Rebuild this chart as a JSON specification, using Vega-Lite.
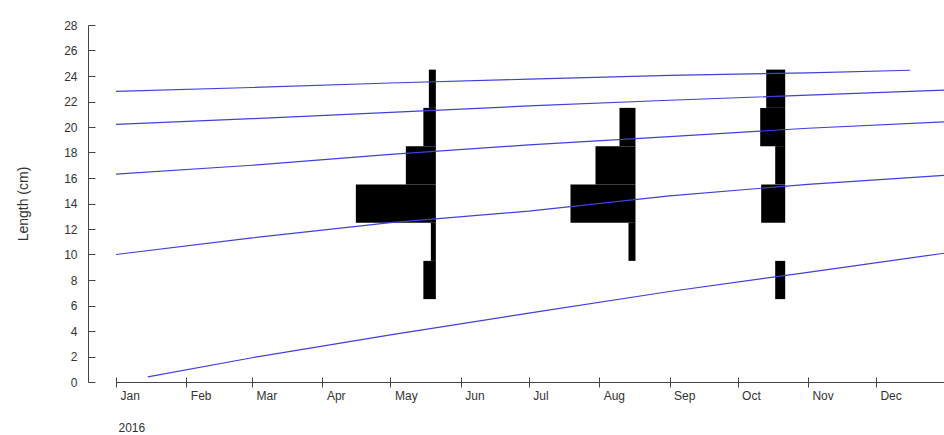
{
  "$schema": "https://vega.github.io/schema/vega-lite/v6.json",
  "width": 828,
  "height": 357,
  "autosize": {"type": "none"},
  "padding": {"left": 116, "top": 25, "right": 0, "bottom": 53},
  "background": "white",
  "config": {
    "view": {"stroke": null},
    "font": "Liberation Sans",
    "axis": {"labelFont": "Liberation Sans", "titleFont": "Liberation Sans", "labelColor": "#333", "titleColor": "#333", "grid": false}
  },
  "datasets": {
    "samples": [
      {"date": "2016-05-21"},
      {"date": "2016-08-17"},
      {"date": "2016-10-22"}
    ],
    "freq": [
      {"date": "2016-05-21", "lo": 6.5, "hi": 9.5, "n": 2.5},
      {"date": "2016-05-21", "lo": 9.5, "hi": 12.5, "n": 1},
      {"date": "2016-05-21", "lo": 12.5, "hi": 15.5, "n": 16},
      {"date": "2016-05-21", "lo": 15.5, "hi": 18.5, "n": 6},
      {"date": "2016-05-21", "lo": 18.5, "hi": 21.5, "n": 2.5},
      {"date": "2016-05-21", "lo": 21.5, "hi": 24.5, "n": 1.4},
      {"date": "2016-08-17", "lo": 9.5, "hi": 12.5, "n": 1.4},
      {"date": "2016-08-17", "lo": 12.5, "hi": 15.5, "n": 13},
      {"date": "2016-08-17", "lo": 15.5, "hi": 18.5, "n": 8},
      {"date": "2016-08-17", "lo": 18.5, "hi": 21.5, "n": 3.2},
      {"date": "2016-10-22", "lo": 6.5, "hi": 9.5, "n": 2},
      {"date": "2016-10-22", "lo": 12.5, "hi": 15.5, "n": 4.8},
      {"date": "2016-10-22", "lo": 15.5, "hi": 18.5, "n": 2},
      {"date": "2016-10-22", "lo": 18.5, "hi": 21.5, "n": 5},
      {"date": "2016-10-22", "lo": 21.5, "hi": 24.5, "n": 3.8}
    ],
    "growth": [
      {"cohort": 1, "date": "2016-01-15", "length": 0.4},
      {"cohort": 1, "date": "2016-03-01", "length": 1.9},
      {"cohort": 1, "date": "2016-05-01", "length": 3.7},
      {"cohort": 1, "date": "2016-07-01", "length": 5.4},
      {"cohort": 1, "date": "2016-09-01", "length": 7.1},
      {"cohort": 1, "date": "2016-11-01", "length": 8.6},
      {"cohort": 1, "date": "2016-12-31", "length": 10.1},
      {"cohort": 2, "date": "2016-01-01", "length": 10.0},
      {"cohort": 2, "date": "2016-03-01", "length": 11.3},
      {"cohort": 2, "date": "2016-05-01", "length": 12.5},
      {"cohort": 2, "date": "2016-07-01", "length": 13.4},
      {"cohort": 2, "date": "2016-09-01", "length": 14.6},
      {"cohort": 2, "date": "2016-11-01", "length": 15.5},
      {"cohort": 2, "date": "2016-12-31", "length": 16.2},
      {"cohort": 3, "date": "2016-01-01", "length": 16.3},
      {"cohort": 3, "date": "2016-03-01", "length": 17.0},
      {"cohort": 3, "date": "2016-05-01", "length": 17.85},
      {"cohort": 3, "date": "2016-07-01", "length": 18.6},
      {"cohort": 3, "date": "2016-09-01", "length": 19.25},
      {"cohort": 3, "date": "2016-11-01", "length": 19.9},
      {"cohort": 3, "date": "2016-12-31", "length": 20.4},
      {"cohort": 4, "date": "2016-01-01", "length": 20.2},
      {"cohort": 4, "date": "2016-03-01", "length": 20.65},
      {"cohort": 4, "date": "2016-05-01", "length": 21.15},
      {"cohort": 4, "date": "2016-07-01", "length": 21.65},
      {"cohort": 4, "date": "2016-09-01", "length": 22.1},
      {"cohort": 4, "date": "2016-11-01", "length": 22.5},
      {"cohort": 4, "date": "2016-12-31", "length": 22.9},
      {"cohort": 5, "date": "2016-01-01", "length": 22.8},
      {"cohort": 5, "date": "2016-03-01", "length": 23.1},
      {"cohort": 5, "date": "2016-05-01", "length": 23.45},
      {"cohort": 5, "date": "2016-07-01", "length": 23.75},
      {"cohort": 5, "date": "2016-09-01", "length": 24.05},
      {"cohort": 5, "date": "2016-11-01", "length": 24.25},
      {"cohort": 5, "date": "2016-12-16", "length": 24.45}
    ]
  },
  "resolve": {"axis": {"x": "independent", "y": "independent"}},
  "layer": [
    {
      "data": {"name": "samples"},
      "mark": {"type": "rule", "color": "#ebebeb", "strokeWidth": 1},
      "encoding": {
        "x": {
          "field": "date", "type": "temporal",
          "scale": {"domain": [{"year": 2016, "month": 1, "date": 1, "utc": true}, {"year": 2016, "month": 12, "date": 31, "utc": true}]},
          "axis": {
            "orient": "bottom", "offset": -5, "domain": false, "labels": false,
            "ticks": true, "tickSize": 10, "tickColor": "#444", "tickWidth": 1,
            "title": null, "tickCount": {"interval": "month", "step": 1}
          }
        },
        "y": {
          "field": "lo", "type": "quantitative",
          "scale": {"domain": [0, 28], "nice": false},
          "axis": {
            "orient": "left",
            "values": [0, 2, 4, 6, 8, 10, 12, 14, 16, 18, 20, 22, 24, 26, 28],
            "offset": 21, "domain": false, "labels": false, "title": null,
            "ticks": true, "tickSize": 7, "tickColor": "#444"
          }
        }
      }
    },
    {
      "data": {"name": "freq"},
      "transform": [
        {"calculate": "toDate(datum.date) - datum.n * 190434783", "as": "start"}
      ],
      "mark": {"type": "rect", "color": "black"},
      "encoding": {
        "x": {
          "field": "start", "type": "temporal",
          "axis": {
            "orient": "bottom", "format": "%b", "tickCount": {"interval": "month", "step": 1},
            "domainColor": "#444", "ticks": false, "labelAlign": "left", "labelOffset": 4,
            "labelPadding": 8, "labelFontSize": 12, "labelFlush": false,
            "title": "2016", "titleFontSize": 12, "titleFontWeight": "normal",
            "titleAnchor": "start", "titleAlign": "left", "titleX": 2, "titleY": 40, "titleBaseline": "top"
          }
        },
        "x2": {"field": "date"},
        "y": {
          "field": "lo", "type": "quantitative",
          "axis": {
            "orient": "left",
            "values": [0, 2, 4, 6, 8, 10, 12, 14, 16, 18, 20, 22, 24, 26, 28],
            "offset": 28, "domainColor": "#444", "ticks": false,
            "labelPadding": 11, "labelFontSize": 12, "labelOverlap": false, "labelFlush": false,
            "title": "Length (cm)", "titleFontSize": 14, "titleFontWeight": "normal", "titlePadding": 33
          }
        },
        "y2": {"field": "hi"}
      }
    },
    {
      "data": {"name": "growth"},
      "mark": {"type": "line", "color": "#4040dc", "strokeWidth": 1.2},
      "encoding": {
        "x": {"field": "date", "type": "temporal", "axis": null},
        "y": {"field": "length", "type": "quantitative", "axis": null},
        "detail": {"field": "cohort"}
      }
    }
  ]
}
